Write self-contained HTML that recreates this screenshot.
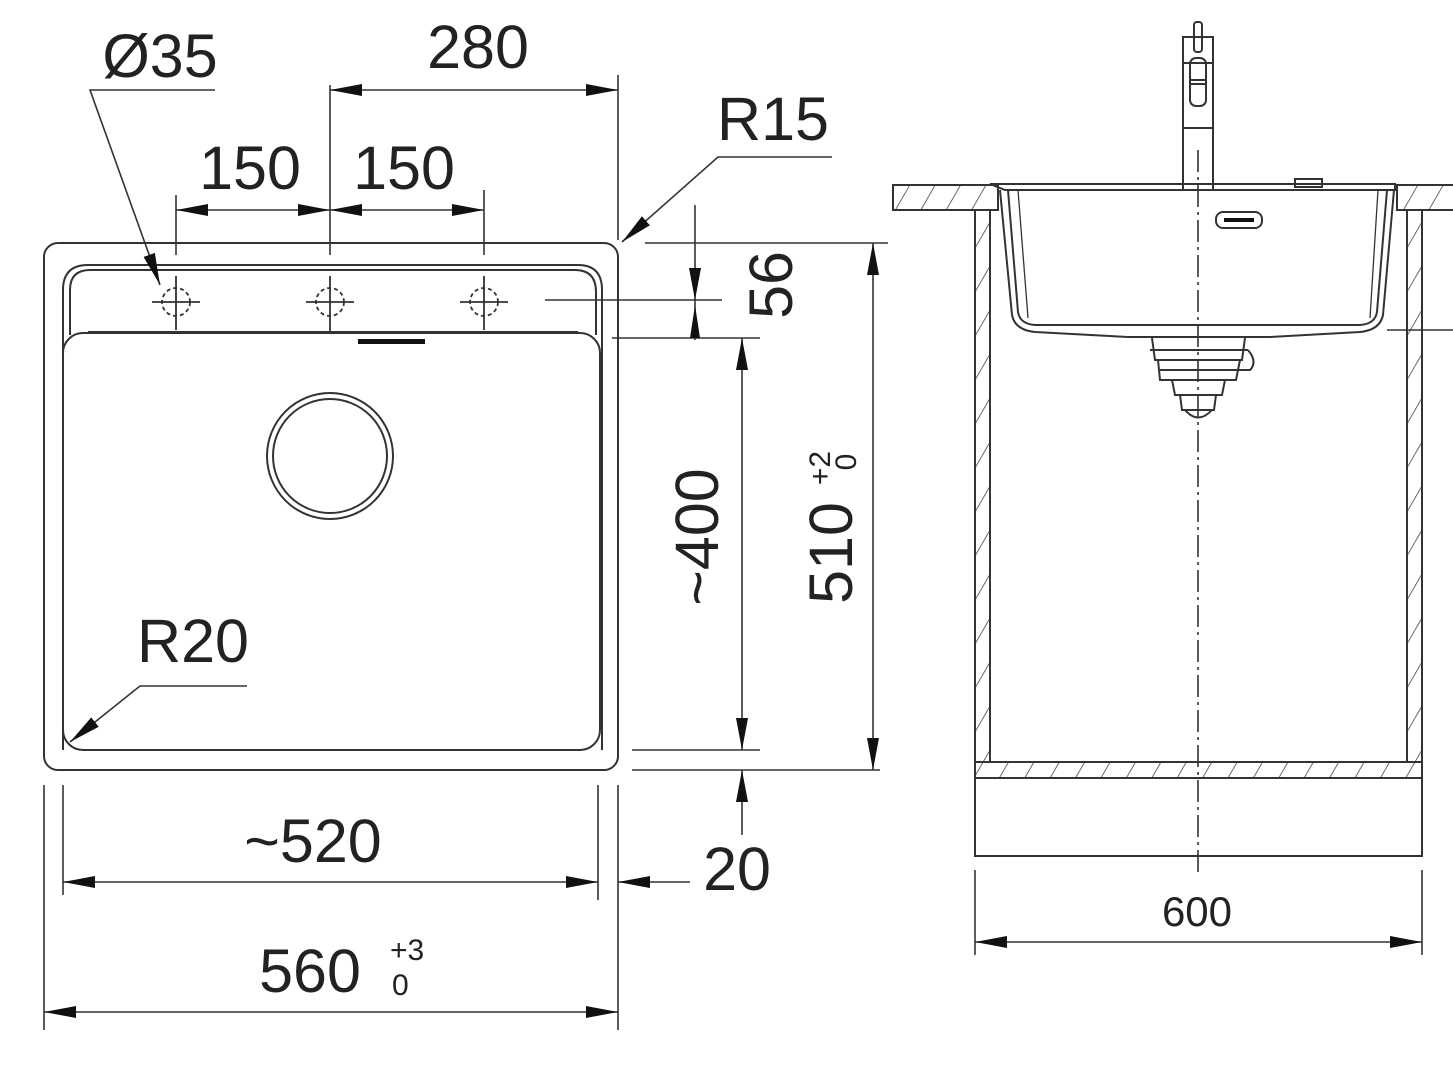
<!DOCTYPE html>
<html><head><meta charset="utf-8"><style>
html,body{margin:0;padding:0;background:#fff;}
svg{display:block;}
text{font-family:"Liberation Sans",sans-serif;fill:#222;}
</style></head><body>
<svg width="1453" height="1066" viewBox="0 0 1453 1066" xmlns="http://www.w3.org/2000/svg">
<defs>
<marker id="a" markerUnits="userSpaceOnUse" markerWidth="34" markerHeight="14" refX="32" refY="7" orient="auto-start-reverse">
<path d="M0,1 L32,7 L0,13 Z" fill="#111"/>
</marker>
<pattern id="h" patternUnits="userSpaceOnUse" width="22" height="22" patternTransform="rotate(30)">
<line x1="0" y1="0" x2="0" y2="22" stroke="#444" stroke-width="1.6"/>
</pattern>
</defs>
<g stroke="#333" stroke-width="2" fill="none">
<rect x="44" y="243" width="574" height="527" rx="14"/>
<path d="M63,750 L63,290 Q63,265 88,265 L578,265 Q602,265 602,290 L602,750"/>
<path d="M70,335 L70,290 Q70,270 90,270 L575,270 Q596,270 596,292 L596,335"/>
<rect x="63" y="333" width="537" height="417" rx="20"/>
<line x1="88" y1="332" x2="578" y2="332"/>
<rect x="358" y="339" width="67" height="5" fill="#111" stroke="none"/>
<circle cx="330" cy="456" r="63"/>
<circle cx="330" cy="456" r="57"/>
<g stroke-width="1.8">
<circle cx="176" cy="302" r="14" stroke-dasharray="4 3"/>
<circle cx="330" cy="302" r="14" stroke-dasharray="4 3"/>
<circle cx="484" cy="302" r="14" stroke-dasharray="4 3"/>
<path d="M152,302 H200 M176,276 V330 M306,302 H354 M330,276 V332 M460,302 H508 M484,276 V330"/>
</g>
<g stroke-width="1.6">
<line x1="330" y1="85" x2="330" y2="255"/>
<line x1="618" y1="75" x2="618" y2="240"/>
<line x1="330" y1="90" x2="618" y2="90" marker-start="url(#a)" marker-end="url(#a)"/>
<line x1="176" y1="195" x2="176" y2="255"/>
<line x1="484" y1="190" x2="484" y2="255"/>
<line x1="176" y1="210" x2="330" y2="210" marker-start="url(#a)" marker-end="url(#a)"/>
<line x1="330" y1="210" x2="484" y2="210" marker-start="url(#a)" marker-end="url(#a)"/>
<polyline points="215,90 90,90 160,285" marker-end="url(#a)"/>
<polyline points="832,157 718,157 622,242" marker-end="url(#a)"/>
<polyline points="247,686 140,686 70,742" marker-end="url(#a)"/>
<line x1="645" y1="243" x2="888" y2="243"/>
<line x1="545" y1="300" x2="722" y2="300"/>
<line x1="612" y1="338" x2="760" y2="338"/>
<line x1="632" y1="750" x2="760" y2="750"/>
<line x1="632" y1="770" x2="880" y2="770"/>
<line x1="695" y1="205" x2="695" y2="300" marker-end="url(#a)"/>
<line x1="695" y1="340" x2="695" y2="300"/>
<path d="M695,305 L690,338 L700,338 Z" fill="#111" stroke="none"/>
<line x1="742" y1="338" x2="742" y2="750" marker-start="url(#a)" marker-end="url(#a)"/>
<line x1="873" y1="243" x2="873" y2="770" marker-start="url(#a)" marker-end="url(#a)"/>
<line x1="742" y1="835" x2="742" y2="770" marker-end="url(#a)"/>
<line x1="63" y1="785" x2="63" y2="895"/>
<line x1="598" y1="785" x2="598" y2="900"/>
<line x1="618" y1="785" x2="618" y2="1030"/>
<line x1="44" y1="785" x2="44" y2="1030"/>
<line x1="63" y1="882" x2="598" y2="882" marker-start="url(#a)" marker-end="url(#a)"/>
<line x1="690" y1="882" x2="618" y2="882" marker-end="url(#a)"/>
<line x1="44" y1="1012" x2="618" y2="1012" marker-start="url(#a)" marker-end="url(#a)"/>
</g>
<rect x="893" y="185" width="105" height="25" fill="url(#h)"/>
<rect x="1397" y="185" width="60" height="25" fill="url(#h)"/>
<rect x="975" y="210" width="15" height="552" fill="url(#h)"/>
<rect x="1407" y="210" width="15" height="552" fill="url(#h)"/>
<rect x="975" y="762" width="447" height="16" fill="url(#h)"/>
<line x1="990" y1="210" x2="990" y2="762"/>
<line x1="1407" y1="210" x2="1407" y2="762"/>
<line x1="990" y1="762" x2="1407" y2="762"/>
<path d="M975,210 V856 H1422 V210"/>
<line x1="975" y1="778" x2="1422" y2="778"/>
<path d="M990,184 L1395,184 L1395,190 L1005,190 Z"/>
<path d="M1000,190 L1012,315 Q1015,330 1035,332 L1128,337 L1270,337 L1360,332 Q1380,330 1383,315 L1394,190"/>
<path d="M1008,190 L1018,312 Q1020,324 1035,325 L1360,325 Q1375,324 1377,312 L1387,190"/>
<path d="M1018,190 L1028,318 M1378,190 L1370,318" stroke-width="1.3"/>
<path d="M1152,338 L1155,360 L1242,360 L1245,338" />
<path d="M1158,360 L1160,380 L1236,380 L1240,360 M1150,350 H1248 M1160,370 H1250 Q1258,362 1248,350"/>
<path d="M1172,380 L1175,395 L1222,395 L1225,380 M1180,395 L1182,410 L1214,410 L1216,395"/>
<path d="M1185,410 Q1198,425 1212,410"/>
<rect x="1216" y="212" width="46" height="16" rx="7"/>
<rect x="1224" y="218" width="30" height="4" fill="#111" stroke="none"/>
<rect x="1295" y="179" width="27" height="8"/>
<path d="M1183,190 V128 M1213,190 V128 M1183,128 H1213 M1183,128 V37 H1213 V128 M1183,63 H1213"/>
<rect x="1194" y="22" width="8" height="30" rx="3"/>
<rect x="1190" y="58" width="16" height="48" rx="6"/>
<path d="M1190,80 H1206 M1190,84 H1206"/>
<line x1="1198" y1="150" x2="1198" y2="875" stroke-dasharray="22 5 3 5" stroke-width="1.6"/>
<line x1="1387" y1="330" x2="1453" y2="330" stroke-width="1.5"/>
<line x1="975" y1="870" x2="975" y2="955" stroke-width="1.6"/>
<line x1="1422" y1="870" x2="1422" y2="955" stroke-width="1.6"/>
<line x1="975" y1="942" x2="1422" y2="942" stroke-width="1.6" marker-start="url(#a)" marker-end="url(#a)"/>
</g>
<g font-size="61">
<text x="478" y="68" text-anchor="middle">280</text>
<text x="160" y="77" text-anchor="middle">Ø35</text>
<text x="250" y="189" text-anchor="middle">150</text>
<text x="404" y="189" text-anchor="middle">150</text>
<text x="773" y="140" text-anchor="middle">R15</text>
<text x="193" y="662" text-anchor="middle">R20</text>
<text x="313" y="862" text-anchor="middle">~520</text>
<text x="737" y="890" text-anchor="middle">20</text>
<text x="310" y="992" text-anchor="middle">560</text>
<text transform="translate(792,285) rotate(-90)" text-anchor="middle">56</text>
<text transform="translate(718,537) rotate(-90)" text-anchor="middle">~400</text>
<text transform="translate(852,553) rotate(-90)" text-anchor="middle">510</text>
</g>
<text x="390" y="960" font-size="30">+3</text>
<text x="392" y="995" font-size="30">0</text>
<text transform="translate(830,468) rotate(-90)" font-size="30" text-anchor="middle">+2</text>
<text transform="translate(856,462) rotate(-90)" font-size="30" text-anchor="middle">0</text>
<text x="1197" y="926" font-size="42" text-anchor="middle">600</text>
</svg>
</body></html>
